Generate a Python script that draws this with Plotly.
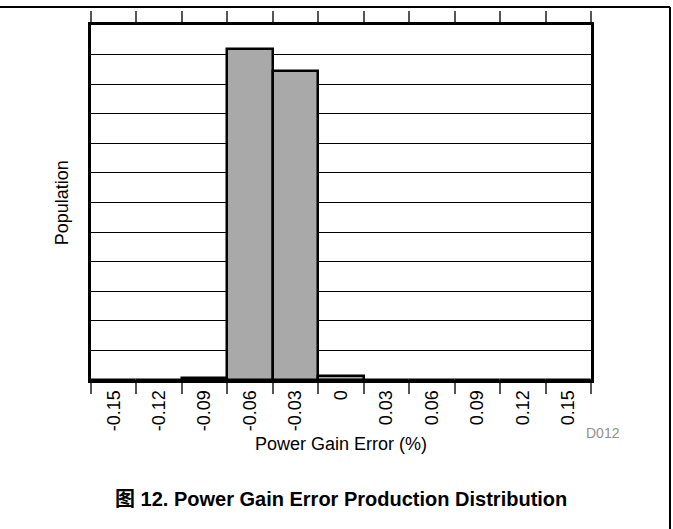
import plotly.graph_objects as go

# Data
bins = ["-0.15", "-0.12", "-0.09", "-0.06", "-0.03", "0", "0.03", "0.06", "0.09", "0.12", "0.15"]
population = [0, 0, 7, 1120, 1045, 12, 0, 0, 0, 0, 0]

FONT = "Liberation Sans, Arial, sans-serif"

fig = go.Figure()
fig.add_trace(go.Bar(
    x=bins, y=population,
    marker=dict(color="#a9a9a9", line=dict(color="black", width=2.5)),
    showlegend=False,
))

fig.update_layout(
    width=673, height=529,
    margin=dict(l=91, r=82, t=25, b=149),
    paper_bgcolor="white", plot_bgcolor="white",
    bargap=0,
    font=dict(family=FONT, color="black", size=18),
    xaxis=dict(
        type="category", tickson="boundaries",
        ticks="outside", ticklen=11, tickwidth=1.5, tickcolor="#555",
        showline=True, linewidth=3, linecolor="black", mirror="ticks",
        tickangle=-90, tickfont=dict(size=18, family=FONT, color="black"),
        showgrid=False,
    ),
    yaxis=dict(
        range=[0, 1200], dtick=100, showticklabels=False, ticks="",
        showgrid=True, gridcolor="black", gridwidth=1,
        showline=True, linewidth=3, linecolor="black", mirror=True,
        zeroline=False,
    ),
    annotations=[
        dict(text="Power Gain Error (%)", xref="paper", yref="paper",
             x=0.5, y=-0.180, showarrow=False, xanchor="center", yanchor="middle",
             font=dict(size=18, family=FONT)),
        dict(text="Population", xref="paper", yref="paper",
             x=-0.0586, y=0.5, showarrow=False, textangle=-90,
             xanchor="center", yanchor="middle", font=dict(size=18, family=FONT)),
        dict(text="D012", xref="paper", yref="paper",
             x=1.024, y=-0.149, showarrow=False, xanchor="center", yanchor="middle",
             font=dict(size=14, family=FONT, color="#909090")),
        dict(text="<b>图 12. Power Gain Error Production Distribution</b>", xref="paper", yref="paper",
             x=0.5, y=-0.335, showarrow=False, xanchor="center", yanchor="middle",
             font=dict(size=20, family="Liberation Sans, Arial, Noto Sans CJK SC, sans-serif")),
    ],
    shapes=[
        dict(type="line", xref="paper", yref="paper", x0=-0.182, x1=1.158, y0=1.0507, y1=1.0507,
             line=dict(color="black", width=2)),
        dict(type="line", xref="paper", yref="paper", x0=1.158, x1=1.158, y0=1.0507, y1=-0.42,
             line=dict(color="black", width=2)),
    ],
)

fig.write_html("out.html", config={"displayModeBar": False},
               post_script="document.body.style.margin='0';")
